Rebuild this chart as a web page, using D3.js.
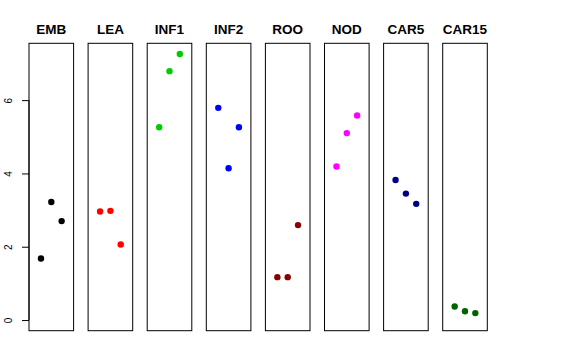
<!DOCTYPE html>
<html><head><meta charset="utf-8">
<script src="https://cdn.jsdelivr.net/npm/d3@7"></script>
<style>body{margin:0;background:#fff}svg{display:block}</style>
</head><body>
<script>
const categories = ["EMB","LEA","INF1","INF2","ROO","NOD","CAR5","CAR15"];
const colors = ["#000000","#FF0000","#00CD00","#0000FF","#8B0000","#FF00FF","#000080","#006400"];
const values = [
  [1.68, 3.22, 2.70],
  [2.96, 2.98, 2.06],
  [5.26, 6.79, 7.26],
  [5.79, 4.14, 5.26],
  [1.17, 1.17, 2.59],
  [4.19, 5.10, 5.58],
  [3.82, 3.45, 3.17],
  [0.37, 0.24, 0.19]
];
const yTicks = [0, 2, 4, 6];

const W = 576, H = 360;
const svg = d3.select("body").append("svg").attr("width", W).attr("height", H);

const yMax = d3.max(values.flat());
const yPad = yMax * 0.04;
const y = d3.scaleLinear().domain([-yPad, yMax + yPad]).range([330.7, 43.3]);

const left0 = 29, pitch = 59.1, boxW = 44.6;

categories.forEach((cat, i) => {
  const x0 = left0 + i * pitch;
  const x = d3.scaleLinear().domain([-0.16, 4.16]).range([x0, x0 + boxW]);
  const g = svg.append("g");
  g.append("rect").attr("x", x0).attr("y", y.range()[1])
    .attr("width", boxW).attr("height", y.range()[0] - y.range()[1])
    .attr("fill", "none").attr("stroke", "#000").attr("stroke-width", 1);
  g.append("text").attr("x", x0 + boxW / 2).attr("y", 34)
    .attr("text-anchor", "middle").attr("font-family", "Liberation Sans, Arial, sans-serif")
    .attr("font-weight", "bold").attr("font-size", 13.5).text(cat);
  g.selectAll("circle").data(values[i]).join("circle")
    .attr("cx", (d, j) => x(j + 1)).attr("cy", d => y(d))
    .attr("r", 3.2).attr("fill", colors[i]);
});

// y axis on first panel
const ax = svg.append("g").attr("transform", `translate(${left0},0)`)
  .call(d3.axisLeft(y).tickValues(yTicks).tickSize(7).tickSizeOuter(0).tickFormat(d3.format("d")));
ax.select(".domain").attr("d", `M0,${y(0)}V${y(6)}`).attr("stroke", "#000");
ax.selectAll(".tick line").attr("stroke", "#000");
ax.selectAll(".tick text")
  .attr("font-family", "Liberation Sans, Arial, sans-serif").attr("font-size", 10)
  .attr("fill", "#000")
  .attr("x", null).attr("dy", null)
  .attr("text-anchor", "middle")
  .attr("transform", "translate(-21,0) rotate(-90)")
  .attr("dominant-baseline", "central");
</script>
</body></html>
